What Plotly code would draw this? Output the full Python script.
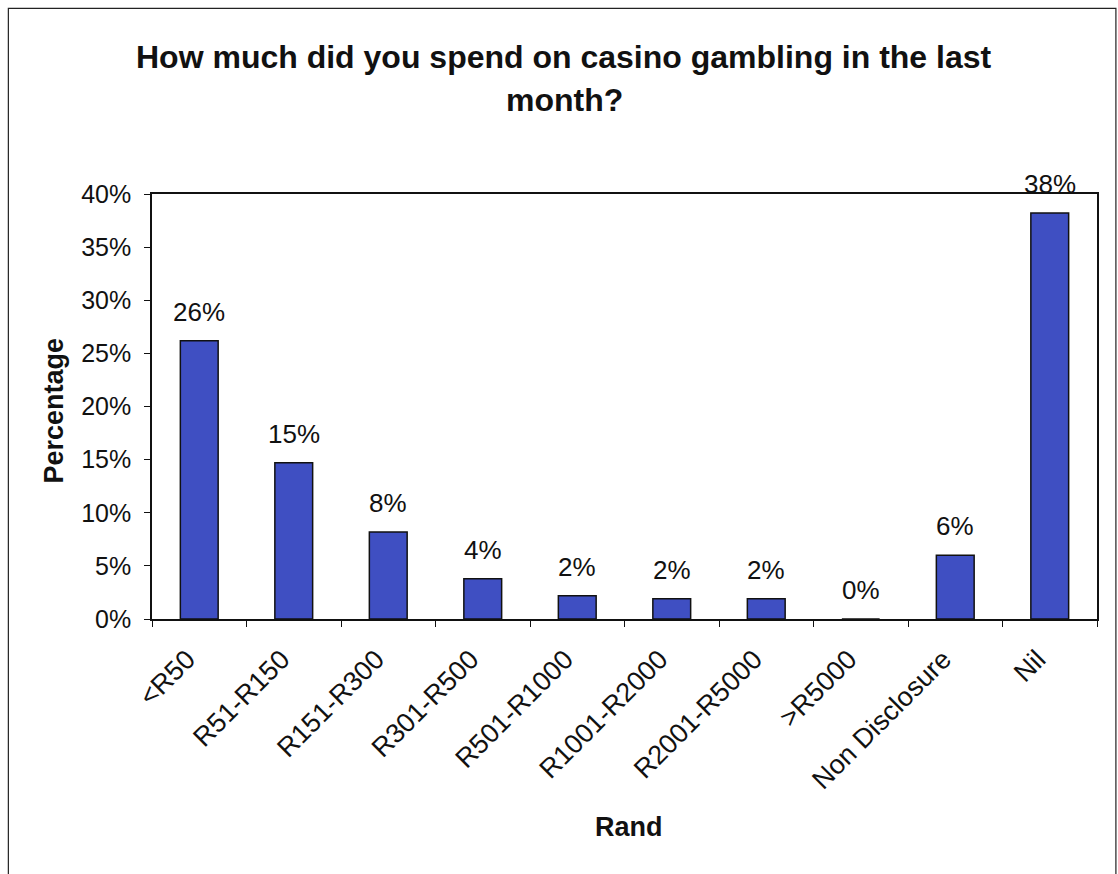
import plotly.graph_objects as go

# Survey responses: monthly casino spend bands (South African Rand)
categories = ["<R50", "R51-R150", "R151-R300", "R301-R500", "R501-R1000",
              "R1001-R2000", "R2001-R5000", ">R5000", "Non Disclosure", "Nil"]
percentages = [26.2, 14.7, 8.2, 3.8, 2.2, 1.9, 1.9, 0.0, 6.0, 38.2]
y_ticks = [0, 5, 10, 15, 20, 25, 30, 35, 40]

FONT = "Liberation Sans, Arial, sans-serif"
INK = "#111111"

fig = go.Figure()
fig.add_trace(go.Bar(
    x=categories,
    y=percentages,
    marker=dict(color="#3f4fc2", line=dict(color=INK, width=1.5)),
    hoverinfo="skip",
))

# Value labels above each bar
annotations = []
for c, v in zip(categories, percentages):
    annotations.append(dict(
        x=c, y=v, xref="x", yref="y",
        text=f"{v:.0f}%", showarrow=False,
        yanchor="bottom", yshift=12,
        font=dict(family=FONT, size=26, color=INK),
    ))

# Two-line chart title
annotations.append(dict(
    x=0.436, y=1.322, xref="paper", yref="paper",
    text="<b>How much did you spend on casino gambling in the last</b>",
    showarrow=False, xanchor="center", yanchor="middle",
    font=dict(family=FONT, size=32, color=INK),
))
annotations.append(dict(
    x=0.436, y=1.221, xref="paper", yref="paper",
    text="<b>month?</b>",
    showarrow=False, xanchor="center", yanchor="middle",
    font=dict(family=FONT, size=32, color=INK),
))
# Axis titles
annotations.append(dict(
    x=0.505, y=-0.489, xref="paper", yref="paper",
    text="<b>Rand</b>", showarrow=False, xanchor="center", yanchor="middle",
    font=dict(family=FONT, size=27, color=INK),
))
annotations.append(dict(
    x=-0.104, y=0.49, xref="paper", yref="paper",
    text="<b>Percentage</b>", showarrow=False, textangle=-90,
    xanchor="center", yanchor="middle",
    font=dict(family=FONT, size=27, color=INK),
))

fig.update_layout(
    width=1118, height=874,
    margin=dict(l=152, r=21, t=194, b=255),
    paper_bgcolor="white", plot_bgcolor="white",
    showlegend=False,
    bargap=0.6,
    annotations=annotations,
    shapes=[
        # outer chart frame
        dict(type="rect", xref="paper", yref="paper",
             x0=-0.152, x1=1.020, y0=-0.62, y1=1.437,
             line=dict(color="#222222", width=1.2), layer="below"),
    ],
)

fig.update_xaxes(
    type="category",
    tickangle=-45,
    tickfont=dict(family=FONT, size=27, color=INK),
    showline=True, linecolor=INK, linewidth=1.5, mirror=True,
    ticks="outside", tickson="boundaries", ticklen=6, tickcolor=INK,
    ticklabelstandoff=12, ticklabelshift=-12,
    showgrid=False,
)
fig.update_yaxes(
    range=[0, 40],
    tickvals=y_ticks,
    ticktext=[f"{t}%" for t in y_ticks],
    tickfont=dict(family=FONT, size=25, color=INK),
    showline=True, linecolor=INK, linewidth=1.5, mirror=True,
    ticks="outside", ticklen=6, tickcolor=INK,
    ticklabelstandoff=8,
    showgrid=False, zeroline=False,
)

fig.write_html("out.html")
